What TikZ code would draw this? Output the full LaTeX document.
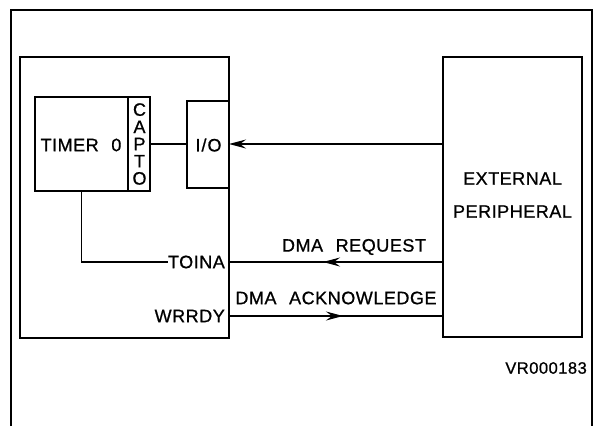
\documentclass[tikz,border=0pt]{standalone}
\usepackage{fontspec}
\setmainfont{Liberation Sans}
\usetikzlibrary{arrows.meta,decorations.markings}
\newfontfamily\cadfont[LetterSpace=3,FakeBold=0.8]{Liberation Sans}
\newcommand{\wsp}{\hspace{0.7em}}
\tikzset{
  box/.style={draw, line width=1.7pt, rectangle, inner sep=0pt, outer sep=0pt, anchor=north west},
  wire/.style={line width=1.2pt},
  lbl/.style={font=\cadfont\fontsize{18}{18}\selectfont, inner sep=0pt},
  midarrow/.style={postaction={decorate}, decoration={markings, mark=at position #1 with {\arrow{Stealth[length=17pt,width=9pt,inset=6pt]}}}},
  tiparrow/.style={-{Stealth[length=17pt,width=9pt,inset=6pt]}}
}
\begin{document}
\begin{tikzpicture}[x=1pt,y=-1pt]
\useasboundingbox (0,0) rectangle (594,426);
% outer frame
\draw[line width=2.6pt] (11,426) -- (11,10) -- (592,10) -- (592,426);
% boxes
\node[box, minimum width=209pt, minimum height=281pt] (chip) at (20,57) {};
\node[box, minimum width=93pt, minimum height=94pt] (timer) at (35,97) {};
\node[box, minimum width=22pt, minimum height=94pt] (capto) at (128,97) {};
\node[box, minimum width=42pt, minimum height=87pt] (io) at (187,101) {};
\node[box, minimum width=139pt, minimum height=280pt] (ext) at (443,57) {};
% texts
\node[lbl] (timertxt) at (81,145) {TIMER\wsp 0};
\node[lbl, align=center, font=\cadfont\fontsize{18}{17.2}\selectfont] (captotxt) at (139.5,144) {C\\A\\P\\T\\O};
\node[lbl] (iotxt) at (208.5,145) {I\kern1pt/\kern1pt O};
\node[lbl, align=center, font=\cadfont\fontsize{18}{33}\selectfont] (exttxt) at (512.5,195) {EXTERNAL\\PERIPHERAL};
\node[lbl, anchor=east] (toina) at (225,262) {TOINA};
\node[lbl, anchor=east] (wrrdy) at (225,316) {WRRDY};
\node[lbl] (dmareq) at (354,247) {DMA\wsp REQUEST};
\node[lbl] (dmaack) at (336,298) {DMA\wsp ACKNOWLEDGE};
\node[lbl, anchor=east, font=\cadfont\fontsize{16.5}{16.5}\selectfont] (vr) at (587,368) {VR000183};
% connectors
\draw[wire] (capto.east) -- (capto.east -| io.west);
\draw[wire, tiparrow] (capto.east -| ext.west) -- (capto.east -| io.east);
\draw[wire] (timer.south) -- (timer.south |- toina.west) -- (toina.west);
\coordinate (reqR) at (ext.west |- toina.east);
\coordinate (reqL) at (chip.east |- toina.east);
\draw[wire, midarrow=120pt] (reqR) -- (reqL);
\coordinate (ackL) at (chip.east |- wrrdy.east);
\coordinate (ackR) at (ext.west |- wrrdy.east);
\draw[wire, midarrow=114pt] (ackL) -- (ackR);
\end{tikzpicture}
\end{document}
